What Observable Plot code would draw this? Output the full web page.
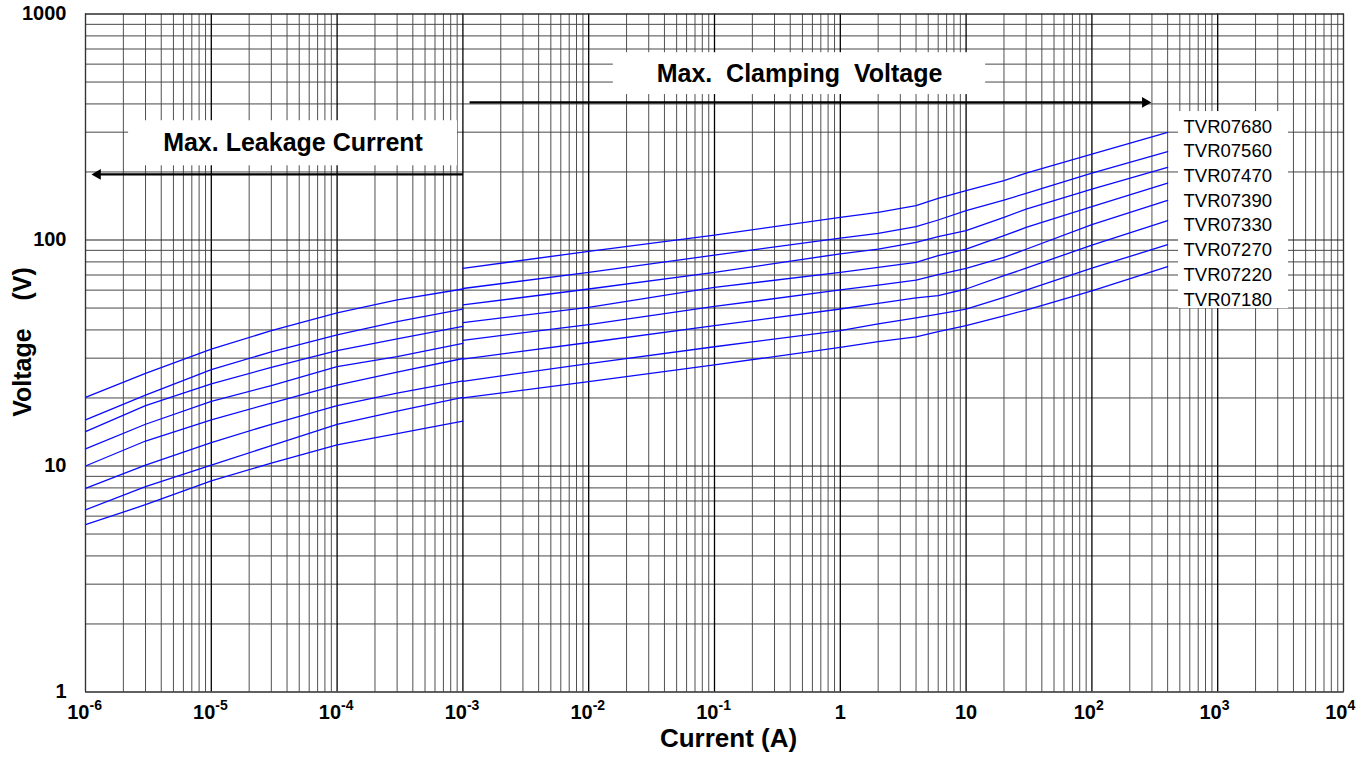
<!DOCTYPE html>
<html><head><meta charset="utf-8">
<script src="https://cdn.jsdelivr.net/npm/d3@7"></script>
<script src="https://cdn.jsdelivr.net/npm/@observablehq/plot@0.6"></script>
<style>
html,body{margin:0;padding:0;background:#fff;}
#chart svg{display:block;}
</style></head><body><div id="chart"></div>
<script>
// ---- data ----
const series = ["TVR07680","TVR07560","TVR07470","TVR07390","TVR07330","TVR07270","TVR07220","TVR07180"];

const leakCurrent = [1e-6, 3e-6, 1e-5, 3e-5, 1e-4, 3e-4, 1e-3];
const leakVoltage = [
  [20.1, 25.7, 32.9, 39.7, 47.6, 54.3, 60.7],
  [16.0, 20.6, 26.7, 32.0, 38.0, 43.5, 49.5],
  [14.2, 18.5, 23.1, 27.3, 32.4, 36.5, 41.5],
  [11.9, 15.3, 19.3, 22.7, 27.5, 30.5, 34.9],
  [10.0, 12.9, 16.0, 19.0, 22.8, 26.0, 29.9],
  [7.96, 10.1, 12.7, 15.3, 18.5, 21.0, 23.8],
  [6.4, 8.1, 10.1, 12.3, 15.3, 17.5, 20.1],
  [5.5, 6.74, 8.6, 10.3, 12.4, 13.9, 15.8]
];

const clampCurrent = [1e-3, 1e-2, 0.1, 1, 2, 4, 6, 10, 20, 30, 100, 400];
const clampVoltage = [
  [74.9, 89.1, 105.2, 125.9, 132.5, 141.8, 152.8, 165.2, 183.0, 197.8, 240, 299],
  [61.0, 71.9, 85.8, 102.0, 107.0, 114.5, 122.6, 134.8, 150.3, 160.8, 197.8, 245.9],
  [51.6, 60.7, 71.9, 86.9, 91.2, 97.6, 103.4, 109.9, 125.9, 137.1, 168.1, 209.6],
  [43.1, 50.3, 61.7, 71.9, 75.6, 79.6, 85.2, 91.2, 104.5, 113.7, 140.4, 178.7],
  [36.0, 42.2, 50.8, 60.1, 63.2, 66.5, 70.2, 74.9, 83.8, 91.0, 117, 149.8],
  [29.7, 35.2, 41.8, 49.5, 52.4, 55.4, 56.7, 60.7, 69.5, 75.0, 95, 121.7],
  [23.7, 28.4, 33.7, 39.7, 42.5, 45.2, 47.0, 49.5, 55.7, 60.0, 75, 95.3],
  [20.0, 23.6, 28.0, 33.5, 35.5, 37.3, 39.3, 41.8, 46.2, 49.0, 59.5, 76.2]
];

const xExponents = [-6, -5, -4, -3, -2, -1, 0, 1, 2, 3, 4];
const xTickBase  = ["10","10","10","10","10","10","1","10","10","10","10"];
const xTickExp   = ["-6","-5","-4","-3","-2","-1","","","2","3","4"];
const yTicks = [1, 10, 100, 1000];
const yTickText = ["1", "10", "100", "1000"];

const xTitle = "Current (A)";
const yTitle = "Voltage\u00a0\u00a0\u00a0\u00a0(V)";
const leakText = "Max. Leakage Current";
const clampText = "Max.\u00a0 Clamping\u00a0 Voltage";

// annotation anchors (data units)
const boxes = [
  {x1: 2.2e-6, x2: 9.06e-4, y1: 213, y2: 337},   // leakage label
  {x1: 0.0157, x2: 14.3, y1: 440, y2: 674},      // clamping label
  {x1: 488, x2: 3655, y1: 49.7, y2: 370}         // series labels
];
const arrows = [
  {x1: 1e-3, x2: 1.25e-6, y: 195},
  {x1: 1.13e-3, x2: 265, y: 406}
];
const legendX = 535;
const legendTopV = 317, legendStep = 1.286;

// ---- build tables ----
const rows = [];
series.forEach((s, i) => {
  leakCurrent.forEach((c, j) => rows.push({series: s, seg: "leak", I: c, V: leakVoltage[i][j]}));
  clampCurrent.forEach((c, j) => rows.push({series: s, seg: "clamp", I: c, V: clampVoltage[i][j]}));
});

const decadesX = d3.range(-6, 4);
const decadesY = d3.range(0, 3);
const minorX = decadesX.flatMap(d => d3.range(2, 10).map(k => k * 10 ** d));
const majorX = xExponents.map(e => 10 ** e);
const minorY = decadesY.flatMap(d => d3.range(2, 10).map(k => k * 10 ** d));
const majorY = yTicks;

const xLabels = xExponents.map((e, i) => ({x: 10 ** e, base: xTickBase[i], exp: xTickExp[i]}));
const legendRows = series.map((s, i) => ({name: s, y: legendTopV / legendStep ** i}));

const font = "'Liberation Sans', Arial, Helvetica, sans-serif";

const chart = Plot.plot({
  width: 1370,
  height: 761,
  marginLeft: 85,
  marginRight: 27,
  marginTop: 13.5,
  marginBottom: 69.5,
  x: {type: "log", domain: [1e-6, 1e4], axis: null},
  y: {type: "log", domain: [1, 1000], axis: null},
  style: {fontFamily: font, background: "#fff", color: "#000"},
  marks: [
    Plot.ruleX(minorX, {stroke: "#505050", strokeWidth: 1}),
    Plot.ruleY(minorY, {stroke: "#484848", strokeWidth: 1}),
    Plot.ruleX(majorX, {stroke: "#000", strokeWidth: 1.3}),
    Plot.ruleY(majorY, {stroke: "#222", strokeWidth: 1.2}),
    Plot.rect(boxes, {x1: "x1", x2: "x2", y1: "y1", y2: "y2", fill: "#fff"}),
    Plot.line(rows, {x: "I", y: "V", z: d => d.series + d.seg, stroke: "#0a0aff", strokeWidth: 1.3}),
    // arrows
    Plot.link(arrows, {x1: "x1", x2: "x2", y1: "y", y2: "y", stroke: "#000", strokeWidth: 2.2}),
    Plot.dot(arrows, {x: "x2", y: "y", symbol: "triangle", r: 4, fill: "#000", stroke: null,
      rotate: d => d.x2 > d.x1 ? 90 : -90}),
    // annotation texts
    Plot.text([leakText], {x: Math.sqrt(boxes[0].x1 * boxes[0].x2), y: Math.sqrt(boxes[0].y1 * boxes[0].y2),
      text: d => d, fontSize: 25, fontWeight: "bold", fill: "#000"}),
    Plot.text([clampText], {x: Math.sqrt(boxes[1].x1 * boxes[1].x2), y: Math.sqrt(boxes[1].y1 * boxes[1].y2),
      text: d => d, fontSize: 25, fontWeight: "bold", fill: "#000"}),
    Plot.text(legendRows, {x: legendX, y: "y", text: "name", textAnchor: "start", fontSize: 18.5, fill: "#000"}),
    // frame
    Plot.frame({stroke: "#333", strokeWidth: 1}),
    // y tick labels
    Plot.text(yTicks, {y: d => d, text: (d, i) => yTickText[i], frameAnchor: "left", dx: -19,
      textAnchor: "end", fontSize: 20, fontWeight: "bold", fill: "#000"}),
    // x tick labels (base + superscript)
    Plot.text(xLabels.filter(d => d.exp === ""), {x: "x", text: "base", frameAnchor: "bottom", dy: 27,
      textAnchor: "middle", fontSize: 20, fontWeight: "bold", fill: "#000"}),
    Plot.text(xLabels.filter(d => d.exp !== ""), {x: "x", text: "base", frameAnchor: "bottom", dy: 27, dx: 4,
      textAnchor: "end", fontSize: 20, fontWeight: "bold", fill: "#000"}),
    Plot.text(xLabels.filter(d => d.exp !== ""), {x: "x", text: "exp", frameAnchor: "bottom", dy: 18, dx: 4,
      textAnchor: "start", fontSize: 14, fontWeight: "bold", fill: "#000"}),
    // axis titles
    Plot.text([xTitle], {text: d => d, frameAnchor: "bottom", dx: 14, dy: 55, fontSize: 26,
      textAnchor: "middle", fontWeight: "bold", fill: "#000"}),
    Plot.text([yTitle], {text: d => d, frameAnchor: "left", dx: -63, dy: -11, rotate: -90, fontSize: 25,
      textAnchor: "middle", fontWeight: "bold", fill: "#000"})
  ]
});

document.getElementById("chart").appendChild(chart);
</script></body></html>
